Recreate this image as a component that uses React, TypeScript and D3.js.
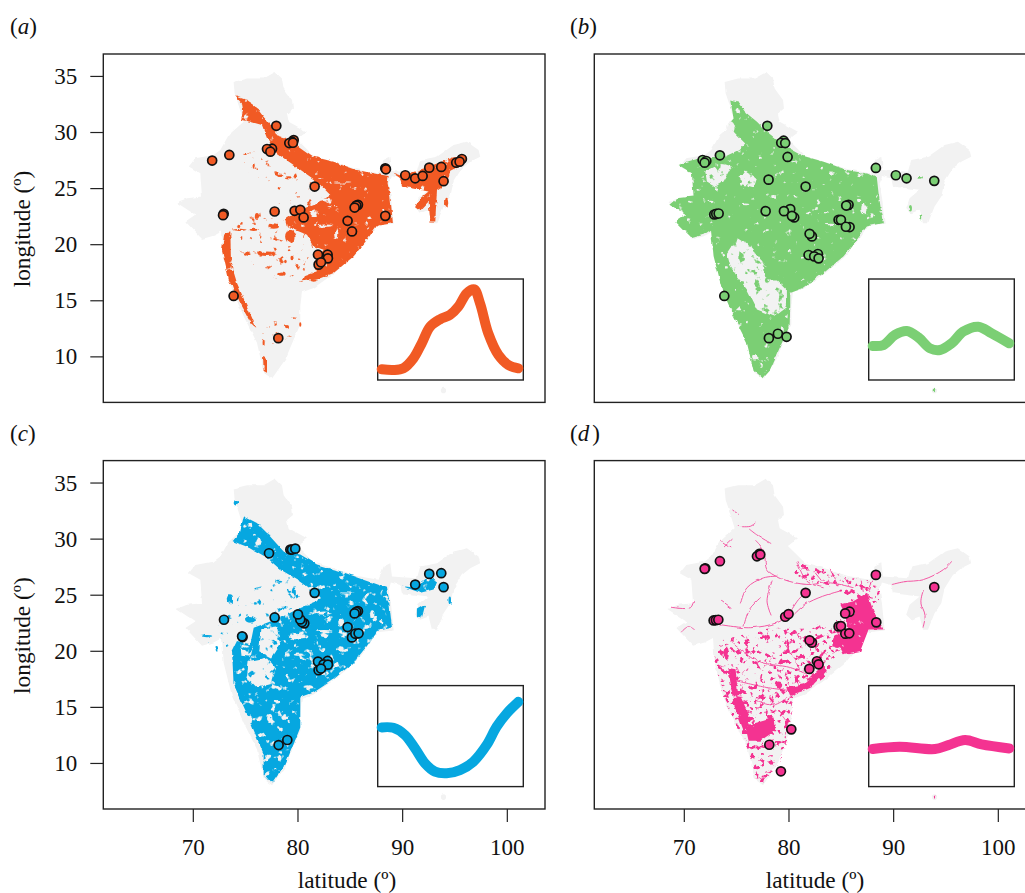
import React from "react";
import * as d3 from "d3";

type Pt = [number, number];
type Patch = [number, number, number, number];

const GRAY = "#f2f2f2";
const ORANGE = "#f15a24";
const GREEN = "#7bcf74";
const BLUE = "#06a7e0";
const PINK = "#f43391";

const xTicks = [70, 80, 90, 100];
const yTicks = [10, 15, 20, 25, 30, 35];

const indiaOutline: Pt[] = [[73.85,34.51],[75.13,34.81],[76.72,34.81],[77.83,35.4],[78.47,34.81],[78.63,33.92],[79.43,32.89],[79.52,32.14],[78.95,31.7],[79.11,30.96],[80.86,30.07],[79.9,29.39],[81.5,27.91],[83.41,27.4],[85.63,26.72],[87.7,26.37],[88.18,27.55],[88.82,27.85],[88.98,26.66],[91.36,26.51],[91.68,27.55],[93.28,27.85],[94.87,28.89],[96.14,29.18],[97.25,28.44],[97.41,27.85],[96.46,27.4],[95.66,26.81],[94.87,25.63],[94.55,24.29],[93.91,23.4],[93.28,21.92],[92.8,21.92],[92.48,23.11],[91.68,22.81],[91.2,23.26],[91.52,24.14],[92.48,24.89],[89.93,25.18],[89.77,25.92],[88.88,26.13],[88.66,25.48],[88.88,24.29],[89.14,21.86],[87.54,21.69],[86.59,20.38],[85.32,18.9],[83.41,17.42],[81.5,16.14],[80.38,15.76],[80.22,14.52],[80.22,12.89],[79.59,11.55],[78.79,9.77],[77.52,8.06],[76.72,8.59],[76.08,11.26],[74.81,13.63],[73.7,16.0],[72.9,18.96],[72.74,21.18],[71.94,20.79],[70.83,20.5],[69.24,22.07],[70.19,22.66],[68.38,23.76],[69.4,24.14],[70.83,24.29],[70.67,26.37],[69.56,26.96],[70.19,27.7],[71.94,28],[72.58,28.44],[73.38,29.77],[74.81,30.96],[74.17,32.89],[73.95,33.48]];
const islandGray: Patch[] = [[93.9,7.0,0.25,0.25]];

// (a) orange
const orangeAreas: Pt[][] = [
  [[74.0,33.24],[75.13,32.89],[75.9,32.4],[76.7,31.4],[77.65,30.4],[78.0,29.75],[78.95,29.5],[79.9,28.89],[81.5,27.85],[83.41,27.4],[85.63,26.66],[87.54,26.31],[88.66,26.13],[88.56,25.48],[88.82,24.29],[89.07,21.92],[87.54,21.69],[86.59,20.44],[85.32,18.96],[83.41,17.48],[81.81,16.89],[80.38,16.74],[80.54,17.18],[81.81,17.63],[81.5,18.37],[82.45,19.55],[81.5,19.85],[80.86,20.89],[78.95,21.63],[78.79,22.22],[80.22,23.11],[81.5,23.55],[83.09,24.44],[81.81,25.63],[79.59,27.11],[77.99,28.14],[77.04,29.48],[76.56,30.66],[75.45,30.96],[74.56,31.11],[74.75,32.0],[74.65,32.59]],
  [[88.98,26.43],[89.93,26.13],[92.32,26.9],[94.87,27.79],[96.14,27.85],[95.66,27.1],[94.55,26.6],[94.23,25.48],[93.28,24.89],[93.12,22.07],[92.64,22.07],[92.48,23.85],[91.68,23.05],[91.2,23.4],[91.68,24.14],[92.48,24.74],[89.93,25.18],[89.77,25.92]],
  [[72.96,21.03],[73.54,21.09],[73.6,18.37],[74.17,16.59],[75.13,14.52],[76.02,12.59],[75.61,12.89],[74.49,14.81],[73.38,16.89],[72.74,19.55]],
  [[76.66,10.07],[77.04,9.92],[77.04,8.59],[76.72,8.74]],
];
const orangeWash: Pt[][] = [
  [[74.0,22.0],[76.0,22.6],[79.0,24.0],[82.5,25.0],[81.5,20.0],[81.8,17.0],[79.5,16.5],[76.5,17.5],[74.5,19.5]],
  [[75.0,28.5],[77.5,28.0],[80.5,26.0],[82.0,25.0],[79.5,24.5],[76.5,25.5],[74.5,27.0]],
  [[78.0,13.5],[80.2,13.5],[79.6,11.8],[76.8,10.6],[76.2,11.8]],
];
const orangePatches: Patch[] = [[77.04,19.2,0.9,0.2],[78.47,17.42,0.35,0.2],[74.97,28.09,0.15,0.1],[78.31,26.13,0.3,0.1],[79.11,25.92,0.35,0.1],[75.77,26.96,0.1,0.2],[76.08,22.52,0.2,0.3],[75.77,21.33,0.4,0.1],[77.68,21.63,0.5,0.2],[79.27,20.74,0.5,0.6],[79.9,18.07,0.15,0.2],[79.43,18.81,0.15,0.2],[78.8,18.5,0.12,0.15],[80.22,12.89,0.1,0.2],[78.95,12.74,0.2,0.2],[76.72,11.26,0.1,0.3],[74.49,21.33,0.7,0.08],[94.2,23.7,0.15,0.4],[81.5,16.8,0.3,0.1]];
const orangeHoles: Patch[] = [[82.6,21.7,0.7,0.1],[81.6,22.8,0.3,0.25],[83.7,21.0,0.15,0.5],[82.6,24.0,0.5,0.2],[83.3,23.4,0.5,0.06],[84.3,25.5,0.8,0.05],[82.4,25.9,0.5,0.05]];

// (b) green
const greenAreas: Pt[][] = [
  [[74.39,32.94],[75.19,32.74],[75.98,31.7],[76.94,30.96],[77.89,30.07],[79.49,28.89],[81.4,27.91],[83.31,27.4],[85.53,26.66],[87.6,26.31],[88.4,25.92],[88.56,24.59],[88.97,21.92],[87.44,21.63],[86.49,20.44],[85.22,18.96],[83.31,17.48],[81.4,16.14],[80.12,15.7],[80.12,14.5],[80.06,12.74],[79.33,11.26],[78.21,8.89],[77.42,8.06],[76.62,8.74],[75.98,11.26],[74.71,13.63],[73.6,16.0],[72.8,18.96],[72.55,21.33],[71.84,20.89],[70.73,20.59],[69.14,22.07],[70.09,22.66],[68.57,23.55],[69.3,24.14],[70.89,24.29],[70.73,26.37],[69.46,27.1],[70.25,27.4],[71.84,27.85],[73.75,27.79],[75.19,28.44],[75.82,29.03],[74.87,29.92],[74.14,30.66],[74.71,31.26]],
];
const greenHolesPoly: Pt[][] = [
  [[74.07,19.26],[75.03,20.59],[76.3,19.85],[77.58,18.37],[77.74,16.89],[78.85,16.89],[79.8,16],[79.8,14.52],[78.53,13.63],[76.94,14.22],[75.98,16],[75.03,17.18],[74.39,18.07]],
  [[72.0,26.52],[73.59,27.26],[74.55,26.96],[73.75,25.63],[72.96,25.18],[72.16,25.63]],
  [[75.19,26.07],[75.98,26.51],[76.94,25.92],[76.62,25.03],[75.35,25.33]],
];
const greenPatches: Patch[] = [[92.5,26.0,0.2,0.12],[91.6,23.2,0.15,0.25],[92.65,22.4,0.08,0.3],[93.9,7.0,0.07,0.15]];
const greenHoles: Patch[] = [[74.4,30.5,0.4,0.5],[76.78,9.92,0.3,0.25],[77.3,9.2,0.2,0.2],[87.2,23.2,0.3,0.5],[86.7,23.9,0.2,0.2],[83.3,22.9,0.5,0.1],[81.9,22.8,0.3,0.08],[84.0,21.8,0.5,0.06],[88.0,22.6,0.2,0.2],[79.3,12.4,0.2,0.3],[77.8,21.3,0.3,0.1],[75.9,23.6,0.4,0.08],[72.5,23.9,0.3,0.1],[80.5,27.4,0.3,0.05]];

// (c) blue
const blueAreas: Pt[][] = [
  [[74.81,32.03],[76.08,31.43],[77.04,30.55],[78.63,28.9],[80.22,28.62],[81.81,27.73],[84.04,27.14],[86.27,26.4],[88.5,25.66],[88.66,24.77],[88.98,22.1],[87.54,21.81],[86.59,20.47],[85.32,18.99],[83.41,17.51],[81.5,16.32],[80.22,15.88],[80.22,13.21],[79.59,11.73],[78.79,9.95],[77.52,8.18],[76.72,9.07],[76.72,10.84],[75.13,14.4],[73.85,17.07],[73.7,20.03],[74.17,20.92],[75.45,20.62],[75.77,22.1],[78.31,22.99],[79.9,23.73],[81.81,24.47],[82.13,24.92],[80.22,26.25],[78.31,27.29],[77.04,28.33],[75.45,29.21],[73.76,29.81],[74.49,30.69]],
  [[89.93,25.81],[91.2,25.66],[92.48,26.7],[93.28,26.25],[92.96,25.51],[91.68,25.21]],
  [[91.36,23.73],[92.16,24.18],[91.84,23],[91.36,23.14]],
];
const blueWash: Pt[][] = [
  [[72.5,22.2],[75.5,22.6],[79.5,23.8],[82.0,25.2],[79.5,26.8],[77.5,26.3],[74.0,24.8]],
  [[70.5,21.5],[73.5,21.5],[73.8,19.5],[72.9,19.5]],
];
const blueHolesPoly: Pt[][] = [
  [[75.29,19.14],[77.04,19.44],[77.83,18.55],[77.36,17.07],[76.08,16.77],[75.13,17.66]],
  [[76.5,22.0],[78.0,22.2],[78.3,20.6],[77.5,19.4],[76.3,20.0]],
  [[74.5,20.6],[75.7,20.4],[75.5,19.6],[74.6,19.7]],
];
const bluePatches: Patch[] = [[71.31,21.36,0.5,0.1],[73.5,24.6,0.3,0.4],[75.45,22.84,0.5,0.3],[72.9,21.6,0.3,0.1],[74.17,33.2,0.2,0.2],[76.72,20.62,0.35,0.3],[78.2,26.2,0.3,0.08],[77.5,25.4,0.15,0.15],[94.5,24.5,0.12,0.3],[79.6,25.2,0.2,0.5],[78.8,23.9,0.3,0.1]];
const blueHoles: Patch[] = [[80.1,21.3,0.9,0.25],[82.5,21.8,0.8,0.1],[84.1,22.6,0.25,0.4],[82.5,23.4,0.7,0.15],[87.1,23.3,0.2,0.35],[88.0,22.6,0.15,0.2],[77.3,14.0,0.25,0.4],[78.8,14.1,0.25,0.3],[78.0,15.5,0.3,0.15],[80.2,19.7,0.5,0.1],[84.8,25.2,0.6,0.05],[82.6,25.8,0.5,0.05],[77.7,9.5,0.25,0.12]];

// (d) pink
const pinkAreas: Pt[][] = [
  [[86.17,24.47],[87.44,25.21],[88.08,23.58],[89.04,21.95],[87.6,21.95],[86.81,20.03],[85.22,19.73],[84.74,20.62],[85.53,22.1],[85.53,22.99],[84.9,24.18]],
  [[75.82,13.36],[77.58,13.81],[78.53,14.1],[78.69,12.92],[77.26,12.03],[76.14,12.03]],
  [[80.12,16.03],[82.03,16.77],[83.62,18.25],[83.31,18.84],[81.4,17.07],[79.8,16.77]],
  [[74.2,18.5],[74.9,18.4],[75.1,16.5],[76.4,13.9],[75.67,12.92],[74.7,15.3]],
];
const pinkWash: Pt[][] = [
  [[72.8,19.9],[73.7,21.0],[78.0,22.0],[81.4,22.0],[83.9,22.2],[85.5,23.5],[85.0,20.0],[83.4,17.6],[81.4,16.3],[80.4,15.9],[80.2,12.9],[79.6,11.6],[78.8,9.8],[77.5,8.1],[76.8,8.7],[76.2,11.3],[74.9,13.6],[73.8,16.0]],
  [[81.4,21.81],[82.99,22.4],[83.62,20.33],[82.03,20.03],[81.07,20.92]],
  [[78.69,12.92],[80.12,13.51],[79.8,11.73],[78.85,9.36],[77.26,8.18],[76.62,9.07],[77.26,10.84],[78.21,11.43]],
  [[77.5,17.8],[79.5,17.6],[80.2,16.4],[78.5,16.0],[77.3,16.4]],
  [[81.5,27.9],[83.4,27.3],[85.6,26.6],[87.7,26.3],[88.7,25.5],[88.8,24.3],[86.0,24.6],[84.0,25.8],[81.8,26.2],[80.5,27.0]],
];
const pinkPatches: Patch[] = [[93.9,7.0,0.06,0.15],[84.6,20.9,0.5,0.6],[81.8,20.9,0.5,0.25],[79.0,17.0,0.35,0.3],[74.0,19.8,0.25,0.6]];
const pinkHoles: Patch[] = [[76.6,17.9,0.7,0.7],[78.2,20.4,1.2,0.5],[77.6,17.6,0.2,0.4]];
const pinkRivers: Pt[][] = [
  [[77.73,28.32],[77.89,27.29],[79.49,26.4],[81.71,25.96],[83.94,26.1],[86.17,25.66]],
  [[89.83,25.95],[90.95,26.19],[92.86,26.4],[94.77,27.29],[95.56,28.03]],
  [[92.86,25.51],[92.6,24.4],[93.0,23.2],[92.8,22.1]],
  [[73.28,22.4],[76.3,22.1],[78.85,22.55],[80.12,23.29]],
  [[75.35,24.18],[75.98,25.66],[77.58,26.55],[79,26.7]],
  [[75.03,31.14],[76.3,31.14],[76.78,31.44]],
  [[73.44,29.81],[74.39,29.21]],
  [[68.66,23.94],[70.57,23.88],[70.89,24.47]],
  [[74.39,20.92],[76.94,19.14],[80.12,18.55],[81.71,17.95]],
  [[75.03,17.36],[77.89,16.77],[80.44,16.47]],
  [[80.76,28.03],[81.71,26.25],[83.31,25.66]],
  [[83.94,27.43],[84.58,25.81]],
  [[80.5,23.3],[81.6,24.2],[83.2,24.9],[85.0,25.4]],
  [[78.4,26.3],[77.9,24.5],[78.3,23.2]],
  [[82.0,25.6],[80.9,24.6],[80.2,23.6]],
  [[79.4,20.9],[80.5,19.4],[81.0,18.3]],
  [[69.7,21.7],[70.4,22.2],[71.0,21.9]],
  [[74.6,32.6],[75.2,32.2]],
  [[88.0,26.3],[87.6,25.3]],
  [[76.8,29.9],[77.5,29.1],[77.7,28.3]],
  [[76.2,30.9],[76.9,30.4],[78.3,29.6]],
  [[77.3,24.8],[76.2,23.7],[75.7,22.3]],
  [[82.5,27.0],[83.1,26.3]],
  [[85.3,26.6],[85.8,25.8]],
  [[86.9,26.3],[87.1,25.3]],
  [[73.8,29.3],[74.6,30.0]],
  [[79.4,14.2],[79.9,13.4],[79.6,12.3]],
  [[76.9,15.6],[78.5,15.2],[79.9,15.9]],
  [[73.5,24.5],[74.5,23.8]],
];

const pointsA: Pt[] = [[71.8,27.5],[73.44,28.0],[77.93,30.6],[79.59,29.33],[79.43,29.18],[79.17,29.06],[79.52,29.09],[77.52,28.56],[77.04,28.53],[77.36,28.29],[81.59,25.18],[88.34,26.81],[88.4,26.72],[90.25,26.19],[91.2,25.92],[91.91,26.13],[92.54,26.87],[93.69,26.93],[95.12,27.31],[95.66,27.64],[95.44,27.4],[93.91,25.66],[85.73,23.55],[85.57,23.49],[85.41,23.31],[72.9,22.75],[72.84,22.63],[77.77,22.96],[79.68,23.02],[80.22,23.11],[80.54,22.43],[84.74,22.13],[85.16,21.18],[88.34,22.57],[81.91,19.11],[82.83,19.11],[82.86,18.78],[81.97,18.22],[82.2,18.43],[73.85,15.43],[78.12,11.67]];
const pointsB: Pt[] = [[71.75,27.55],[72.1,27.46],[71.94,27.31],[73.4,27.97],[77.93,30.6],[79.49,29.27],[79.26,29.09],[79.64,29.06],[79.87,27.82],[78.05,25.8],[81.59,25.18],[88.3,26.84],[90.21,26.19],[91.23,25.92],[93.88,25.69],[85.69,23.55],[85.47,23.49],[72.86,22.69],[73.05,22.75],[73.28,22.78],[77.77,22.99],[80.12,23.17],[79.52,22.99],[80.5,22.43],[80.28,22.57],[84.74,22.22],[84.96,22.22],[85.79,21.57],[85.44,21.6],[82.19,20.74],[81.97,20.97],[81.87,19.08],[82.76,19.17],[82.41,18.96],[82.83,18.78],[73.82,15.43],[78.08,11.67],[78.94,12.06],[79.77,11.79]];
const pointsC: Pt[] = [[77.23,28.74],[79.27,29.07],[79.43,29.07],[79.74,29.15],[81.59,25.21],[91.2,25.95],[92.54,26.9],[93.69,26.96],[93.91,25.72],[72.93,22.81],[74.71,21.27],[74.66,21.33],[77.77,23.02],[80.6,22.49],[80.38,22.61],[80.22,22.84],[80,23.29],[85.73,23.58],[85.57,23.52],[85.41,23.38],[84.74,22.16],[85.16,21.24],[85.48,21.57],[85.79,21.6],[81.91,19.08],[82.83,19.14],[82.45,18.84],[82.86,18.81],[81.97,18.31],[82.2,18.46],[78.15,11.64],[78.98,12.09]];
const pointsD: Pt[] = [[72.0,27.4],[71.94,27.35],[73.4,28.03],[77.16,28.68],[76.94,28.47],[77.26,28.62],[88.3,26.81],[81.59,25.21],[93.88,25.72],[72.8,22.75],[73.02,22.78],[73.25,22.81],[79.64,23.08],[79.96,23.32],[85.79,23.53],[85.37,23.38],[84.74,22.22],[84.96,22.25],[85.38,21.57],[85.76,21.6],[88.34,22.58],[82.19,20.77],[81.97,20.98],[82.67,19.11],[82.83,18.84],[81.94,18.43],[80.22,13.04],[78.12,11.67],[79.23,9.3]];

const curveTA = [0,0.085,0.159,0.232,0.293,0.354,0.427,0.5,0.561,0.622,0.676,0.72,0.78,0.854,0.927,1];
const curveVA = [0.106,0.099,0.116,0.214,0.363,0.528,0.601,0.644,0.726,0.858,0.898,0.759,0.462,0.248,0.149,0.116];
const curveTB = [0,0.078,0.163,0.249,0.334,0.42,0.493,0.578,0.663,0.773,0.871,1];
const curveVB = [0.337,0.346,0.446,0.485,0.422,0.313,0.297,0.363,0.479,0.528,0.462,0.363];
const curveTC = [0,0.085,0.171,0.244,0.317,0.39,0.476,0.573,0.671,0.768,0.841,0.915,1];
const curveVC = [0.586,0.582,0.51,0.378,0.23,0.148,0.132,0.164,0.247,0.411,0.592,0.724,0.839];
const curveTD = [0,0.195,0.456,0.554,0.676,0.798,1];
const curveVD = [0.372,0.395,0.372,0.411,0.461,0.418,0.378];

const panels = [
  { tag: "a", left: 103.3, top: 54, color: ORANGE, mainFilter: "solid", washFilter: "speckSparse", areas: orangeAreas, holesPoly: [] as Pt[][], wash: orangeWash, patches: orangePatches, holes: orangeHoles, rivers: [] as Pt[][], points: pointsA, t: curveTA, v: curveVA, xAxis: false, yAxis: true, titleX: 10, xLabelX: 0 },
  { tag: "b", left: 594.3, top: 54, color: GREEN, mainFilter: "solid", washFilter: "speckSparse", areas: greenAreas, holesPoly: greenHolesPoly, wash: [] as Pt[][], patches: greenPatches, holes: greenHoles, rivers: [] as Pt[][], points: pointsB, t: curveTB, v: curveVB, xAxis: false, yAxis: false, titleX: 570, xLabelX: 0 },
  { tag: "c", left: 103.3, top: 460.6, color: BLUE, mainFilter: "speckMid", washFilter: "speckSparse", areas: blueAreas, holesPoly: blueHolesPoly, wash: blueWash, patches: bluePatches, holes: blueHoles, rivers: [] as Pt[][], points: pointsC, t: curveTC, v: curveVC, xAxis: true, yAxis: true, titleX: 10, xLabelX: 347 },
  { tag: "d", left: 594.3, top: 460.6, color: PINK, mainFilter: "solid", washFilter: "speckMed", areas: pinkAreas, holesPoly: [] as Pt[][], wash: pinkWash, patches: pinkPatches, holes: pinkHoles, rivers: pinkRivers, points: pointsD, t: curveTD, v: curveVD, xAxis: true, yAxis: false, titleX: 570, xLabelX: 815 },
];

const W = 441.7, H = 348.4;
const INK = "#222";
const SERIF = "'Liberation Serif', 'Times New Roman', serif";

function Speck({ id, freq, seed, thresh, scale }: { id: string; freq: number; seed: number; thresh: number; scale: number }) {
  const k = 9;
  return (
    <filter id={id} x="-5%" y="-5%" width="110%" height="110%" colorInterpolationFilters="sRGB">
      <feTurbulence type="fractalNoise" baseFrequency={freq} numOctaves={3} seed={seed} result="n" />
      <feDisplacementMap in="SourceGraphic" in2="n" scale={scale} xChannelSelector="R" yChannelSelector="G" result="d" />
      <feColorMatrix in="n" type="matrix" values={`0 0 0 0 0  0 0 0 0 0  0 0 0 0 0  ${k} 0 0 0 ${-k * thresh}`} result="m" />
      <feComposite in="d" in2="m" operator="in" />
      <feGaussianBlur stdDeviation={0.4} />
    </filter>
  );
}

function Panel({ p }: { p: (typeof panels)[number] }) {
  const x = d3.scaleLinear().domain([61.4, 103.6]).range([p.left, p.left + W]);
  const y = d3.scaleLinear().domain([5.94, 37]).range([p.top + H, p.top]);
  const poly = d3.line<Pt>().x((d) => x(d[0])).y((d) => y(d[1])).curve(d3.curveLinearClosed);
  const river = d3.line<Pt>().x((d) => x(d[0])).y((d) => y(d[1])).curve(d3.curveCatmullRom);
  const sx = x(1) - x(0);
  const sy = y(0) - y(1);
  const ins = { l: p.left + 274.4, t: p.top + 225, w: 145.6, h: 101 };
  const ix = d3.scaleLinear().domain([0, 1]).range([ins.l + 4, ins.l + 140.6]);
  const iy = d3.scaleLinear().domain([0, 1]).range([ins.t + ins.h, ins.t]);
  const curve = d3.line<number>().x((_, i) => ix(p.t[i])).y((d) => iy(d)).curve(d3.curveCatmullRom);
  const ell = (a: Patch, i: number, fill: string) => (
    <ellipse key={i} cx={x(a[0])} cy={y(a[1])} rx={a[2] * sx} ry={a[3] * sy} fill={fill} />
  );
  return (
    <g>
      <g filter="url(#soft)">
        <path d={poly(indiaOutline) || ""} fill={GRAY} />
        {islandGray.map((a, i) => ell(a, i, GRAY))}
      </g>
      {p.wash.length > 0 && (
        <g filter={`url(#${p.washFilter})`}>
          {p.wash.map((a, i) => <path key={i} d={poly(a) || ""} fill={p.color} />)}
        </g>
      )}
      <g filter={`url(#${p.mainFilter})`}>
        {p.areas.map((a, i) => <path key={i} d={poly(a) || ""} fill={p.color} />)}
        {p.patches.map((a, i) => ell(a, i, p.color))}
      </g>
      <g filter="url(#speckHoles)">
        {p.holesPoly.map((a, i) => <path key={i} d={poly(a) || ""} fill={GRAY} />)}
        {p.holes.map((a, i) => ell(a, i, GRAY))}
      </g>
      {p.rivers.length > 0 && (
        <g filter="url(#soft)" opacity={0.8}>
          {p.rivers.map((a, i) => <path key={i} d={river(a) || ""} fill="none" stroke={p.color} strokeWidth={1} />)}
        </g>
      )}
      {p.points.map((d, i) => (
        <circle key={i} cx={x(d[0])} cy={y(d[1])} r={4.5} fill={p.color} stroke="#111" strokeWidth={1.7} />
      ))}
      <rect x={ins.l} y={ins.t} width={ins.w} height={ins.h} fill="white" stroke={INK} strokeWidth={1.4} />
      <path d={curve(p.v) || ""} fill="none" stroke={p.color} strokeWidth={10} strokeLinecap="round" strokeLinejoin="round" />
      <rect x={p.left} y={p.top} width={W} height={H} fill="none" stroke={INK} strokeWidth={1.4} />
      {p.yAxis && yTicks.map((t) => (
        <g key={t}>
          <line x1={p.left - 13} x2={p.left} y1={y(t)} y2={y(t)} stroke={INK} strokeWidth={1.2} />
          <text x={p.left - 26} y={y(t) + 7.5} textAnchor="end" fontSize={23} fontFamily={SERIF} fill="#111">{t}</text>
        </g>
      ))}
      {p.yAxis && (
        <text transform={`translate(30,${p.top + 175}) rotate(-90)`} textAnchor="middle" fontSize={23.3} fontFamily={SERIF} fill="#111">longitude (º)</text>
      )}
      {p.xAxis && xTicks.map((t) => (
        <g key={t}>
          <line x1={x(t)} x2={x(t)} y1={p.top + H} y2={p.top + H + 13} stroke={INK} strokeWidth={1.2} />
          <text x={x(t)} y={855} textAnchor="middle" fontSize={23} fontFamily={SERIF} fill="#111">{t}</text>
        </g>
      ))}
      {p.xAxis && (
        <text x={p.xLabelX} y={888} textAnchor="middle" fontSize={23.3} fontFamily={SERIF} fill="#111">latitude (º)</text>
      )}
      <text x={p.titleX} y={p.top - 20} fontSize={23} fontFamily={SERIF} fill="#111">
        (<tspan fontStyle="italic">{p.tag}</tspan><tspan dx={p.tag === "d" ? 3 : 0}>)</tspan>
      </text>
    </g>
  );
}

export default function App() {
  return (
    <svg width={1025} height={893} style={{ position: "absolute", left: 0, top: 0, display: "block" }}>
      <defs>
        <filter id="soft" x="-5%" y="-5%" width="110%" height="110%" colorInterpolationFilters="sRGB">
          <feTurbulence type="fractalNoise" baseFrequency="0.12" numOctaves={2} seed={3} result="n" />
          <feDisplacementMap in="SourceGraphic" in2="n" scale={3} xChannelSelector="R" yChannelSelector="G" />
          <feGaussianBlur stdDeviation={0.5} />
        </filter>
        <Speck id="solid" freq={0.14} seed={8} thresh={0.19} scale={4} />
        <Speck id="speckMid" freq={0.13} seed={5} thresh={0.27} scale={4} />
        <Speck id="speckMed" freq={0.2} seed={11} thresh={0.56} scale={3} />
        <Speck id="speckSparse" freq={0.14} seed={14} thresh={0.66} scale={3} />
        <Speck id="speckHoles" freq={0.13} seed={21} thresh={0.3} scale={5} />
      </defs>
      <rect width={1025} height={893} fill="white" />
      {panels.map((p) => <Panel key={p.tag} p={p} />)}
    </svg>
  );
}
